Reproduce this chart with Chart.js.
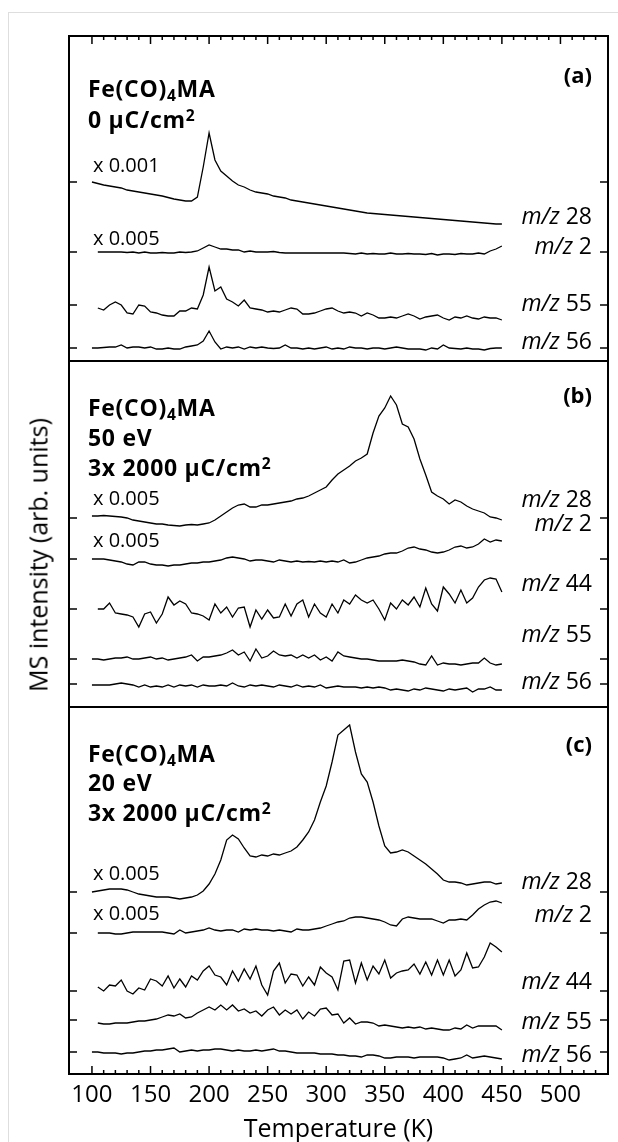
<!DOCTYPE html>
<html>
<head>
<meta charset="utf-8">
<script src="https://cdn.jsdelivr.net/npm/chart.js@4.4.1/dist/chart.umd.min.js"></script>
<style>
  body { margin: 0; background: #fff; font-family: 'Open Sans', sans-serif; }
  #wrap { position: relative; width: 618px; height: 1142px; overflow: hidden; }
  #edge { position: absolute; left: 8px; top: 12px; width: 660px; height: 1200px; border: 1.5px solid #dedede; }
  canvas { position: absolute; left: 0; top: 0; }
  .t { position: absolute; line-height: 1; transform: translateY(-50%); white-space: nowrap; color: #000; }
  .hd { font-weight: 700; font-size: 23px; left: 88px; letter-spacing: 0.7px; }
  .fx { font-size: 20px; left: 93px; }
  .mz { font-size: 23px; right: 26px; }
  .pl { font-weight: 700; font-size: 22px; right: 26px; }
  .sb { font-size: 0.68em; position: relative; top: 0.28em; }
  .sp { font-size: 0.68em; position: relative; top: -0.45em; }
  #ylab { position: absolute; left: 38px; top: 555px; font-size: 25px; line-height: 1; white-space: nowrap;
          transform: translate(-50%, -50%) rotate(-90deg); }
</style>
</head>
<body>
<div id="wrap">
  <div id="edge"></div>
  <canvas id="tpd" width="618" height="1142"></canvas>

  <!-- panel (a) -->
  <div class="t hd" style="top:88px">Fe(CO)<span class="sb">4</span>MA</div>
  <div class="t hd" style="top:119px">0 μC/cm<span class="sp">2</span></div>
  <div class="t pl" style="top:74px">(a)</div>
  <div class="t fx" style="top:165px">x 0.001</div>
  <div class="t fx" style="top:238px">x 0.005</div>
  <div class="t mz" style="top:215px"><i>m/z</i> 28</div>
  <div class="t mz" style="top:245px"><i>m/z</i> 2</div>
  <div class="t mz" style="top:302px"><i>m/z</i> 55</div>
  <div class="t mz" style="top:340px"><i>m/z</i> 56</div>

  <!-- panel (b) -->
  <div class="t hd" style="top:407px">Fe(CO)<span class="sb">4</span>MA</div>
  <div class="t hd" style="top:437px">50 eV</div>
  <div class="t hd" style="top:467px">3x 2000 μC/cm<span class="sp">2</span></div>
  <div class="t pl" style="top:394px">(b)</div>
  <div class="t fx" style="top:498px">x 0.005</div>
  <div class="t fx" style="top:540px">x 0.005</div>
  <div class="t mz" style="top:498px"><i>m/z</i> 28</div>
  <div class="t mz" style="top:522px"><i>m/z</i> 2</div>
  <div class="t mz" style="top:582px"><i>m/z</i> 44</div>
  <div class="t mz" style="top:633px"><i>m/z</i> 55</div>
  <div class="t mz" style="top:680px"><i>m/z</i> 56</div>

  <!-- panel (c) -->
  <div class="t hd" style="top:753px">Fe(CO)<span class="sb">4</span>MA</div>
  <div class="t hd" style="top:782px">20 eV</div>
  <div class="t hd" style="top:812px">3x 2000 μC/cm<span class="sp">2</span></div>
  <div class="t pl" style="top:743px">(c)</div>
  <div class="t fx" style="top:873px">x 0.005</div>
  <div class="t fx" style="top:913px">x 0.005</div>
  <div class="t mz" style="top:880px"><i>m/z</i> 28</div>
  <div class="t mz" style="top:913px"><i>m/z</i> 2</div>
  <div class="t mz" style="top:980px"><i>m/z</i> 44</div>
  <div class="t mz" style="top:1020px"><i>m/z</i> 55</div>
  <div class="t mz" style="top:1053px"><i>m/z</i> 56</div>

  <div id="ylab">MS intensity (arb. units)</div>
</div>

<script>
// temperature grid (K)
const tempK = [100,105,110,115,120,125,130,135,140,145,
               150,155,160,165,170,175,180,185,190,195,
               200,205,210,215,220,225,230,235,240,245,
               250,255,260,265,270,275,280,285,290,295,
               300,305,310,315,320,325,330,335,340,345,
               350,355,360,365,370,375,380,385,390,395,
               400,405,410,415,420,425,430,435,440,445,
               450];

// baselines of the traces (arb. units) = y tick positions of each panel
const baseA = [179, 109, 56, 13];          // m/z 28, 2, 55, 56
const baseB = [189, 148, 98, 48, 23];      // m/z 28, 2, 44, 55, 56
const baseC = [182, 141, 83, 54, 22];      // m/z 28, 2, 44, 55, 56

// (a) 0 uC/cm2
const a28 = [0,-1.5,-3,-4,-5,-6,-8,-9,-10,-11,
             -12,-13,-14,-15.5,-17,-18,-19,-19,-15,15,
             49,22,11,6,1,-3,-5,-8,-10,-11,
             -12,-14,-15,-16,-18,-19,-20,-21,-22,-23,
             -24,-25,-26,-27,-28,-29,-30,-31,-31.5,-32,
             -32.5,-33,-33.5,-34,-34.5,-35,-35.5,-36,-36.5,-37,
             -37.5,-38,-38.5,-39,-39.5,-40,-40.5,-41,-41.5,-42,
             -42];
const a2 = [null,0,0,0,0,0,-0.5,0,-1,0,
            -1,-1,-0.5,-1,-1,0,-0.5,0,1,4,
            7,5,3,3,2,2,0,1,0,0,
            0,0.5,-0.5,-1,-1,-1,-1,-1,-1,-1,
            -1,-1,-1,-1,-1.5,-2,-1,-2,-1.5,-2,
            -2,-1,-2,-2,-1.5,-2,-2,-2.5,-1.5,-3,
            -2,-2,-2.5,-1.5,-2,-2,-1,-2,1,3,
            6];
const a55 = [null,-3,-5,0,3,0,-8,-9,0,-1,
             -7,-8,-10,-11,-11,-6,-6,-3,-4,10,
             38,14,18,6,3,-1,5,-3,-4,-5,
             -7,-6,-7,-5,-3,-4,-9,-9,-8,-6,
             -4,-3,-6,-8,-7,-8,-11,-8,-10,-13,
             -13,-12,-13,-11,-9,-11,-14,-12,-11,-10,
             -13,-15,-12,-13,-11,-13,-14,-12,-13,-13,
             -15];
const a56 = [0,0,0.5,1,1,3,0,1,1,0,
             1,-1,-1,0,-1,-1,1,2,3,7,
             17,6,-1,1,0,1,-1,1,0,1,
             0,-0.5,0,3,0,0,-1,0,-1,0,
             1,-1,0,-1,1,0,0,-1,0,0,
             -1,0,1,0,-1,-1,-1,-2,0,-1,
             3,0,-0.5,-1,0,-1,-1,-2,-0.5,0,
             0];

// (b) 50 eV, 3x 2000 uC/cm2
const b28 = [2,2,2.5,2,1.5,1,0,-2,-3,-4,
             -5,-6,-6,-7,-7.5,-8,-7,-6.5,-7,-6,
             -5,-2,2,6,10,13,14,11,11,13,
             13,14,15,16,17,19,20,22,25,28,
             31,38,44,48,52,57,60,64,85,102,
             110,122,113,94,91,79,59,43,26,22,
             19,14,18,16,12,9,7,5,1,0,
             -2];
const b2 = [0,0,0,-1,-2,-3,-5,-6,-3,-3,
            -5,-6,-6,-7,-6,-6,-5,-4,-4,-3,
            -3,-2,-1,1,2,1,0,-2,-1,-1,
            -2,-3,-1,-2,-3,-2,-3,-2.5,-3,-2,
            -3,-2,-3,-1,-4,-3,-1,1,2,3,
            5,6,6,8,11,12,10,9,7,6,
            7,9,12,13,11,12,15,20,17,19,
            18];
const b44 = [null,0,0,6,-4,-5,-6,-8,-18,-5,
             -3,-14,-5,12,4,8,5,-4,-5,-7,
             -11,5,-4,2,-8,1,2,-18,-1,-10,
             -1,-9,-8,5,-7,5,9,-8,5,-4,
             -8,5,-4,9,5,14,9,6,9,0,
             -11,6,0,9,4,12,2,21,5,-2,
             22,15,6,19,6,11,22,29,31,30,
             17];
const b55 = [0,0,-1,0,1,1,2,0,0,1,
             2,0,1,-1,0,1,2,4,-2,2,
             2,3,4,6,9,4,7,-2,10,1,
             3,8,4,3,4,1,4,1,4,-1,
             2,-2,7,3,2,1,0,0,-1,-2,
             -2,-2,-2,-1,-2,-3,-5,-6,3,-6,
             -4,-5,-5,-6,-5,-4,-4,1,-4,-6,
             -5];
const b56 = [-1,-1,-1,-1,0,1,0,-1,-3,-1,
             -3,-2,-3,-1,-3,-1,-2,-1,-3,-1,
             -2,-2,-1,-2,1,-2,-3,-1,-2,-1,
             -2,-3,-1,-2,-3,-1,-3,-2,-3,-1,
             -4,-3,-2,-3,-3,-3,-4,-3,-4,-3,
             -4,-6,-5,-6,-7,-5,-6,-4,-5,-6,
             -7,-5,-6,-5,-4,-8,-5,-5,-3,-6,
             -6];

// (c) 20 eV, 3x 2000 uC/cm2
const c28 = [0,1,2,3,3,3,2,0,-2,-3,
             -4,-5,-5,-5,-6,-7,-6,-5,-3,1,
             8,18,32,52,57,53,44,36,35,37,
             36,38,37,39,41,45,52,60,72,90,
             106,130,157,162,167,140,118,110,90,66,
             46,39,40,42,40,36,32,28,23,18,
             12,10,10,9,7,8,9,10,10,8,
             9];
const c2 = [null,0,0,0,-1,-1,0,1,1,1,
            1,1,1,0,-1,3,0,1,2,3,
            5,3,2,3,3,1,4,3,4,3,
            3,2,3,2,1,4,3,3,4,5,
            7,9,11,12,15,16,16,15,14,13,
            11,8,7,14,16,15,14,14,14,12,
            10,13,13,14,13,18,24,28,31,32,
            30];
const c44 = [null,4,0,6,5,11,0,-3,3,1,
             12,10,5,15,3,12,4,15,11,20,
             25,16,14,6,20,10,22,12,25,6,
             -4,20,28,8,17,16,5,14,6,24,
             18,14,1,30,31,8,28,11,25,17,
             31,13,18,20,21,27,17,29,16,31,
             16,31,15,21,38,23,24,34,48,44,
             39];
const c55 = [null,-3,-4,-4,-3,-3,-3,-2,-1,-1,
             0,1,3,5,4,6,2,3,7,10,
             13,10,15,10,15,9,11,7,9,4,
             10,13,5,10,6,10,1,8,4,11,
             12,5,6,-3,2,-4,-2,-2,-3,-6,
             -5,-6,-7,-8,-7,-8,-7,-9,-8,-9,
             -10,-10,-8,-9,-5,-8,-6,-6,-6,-6,
             -10];
const c56 = [0,0,-1,-1,-1,-2,-1,-1,0,1,
             1,2,2,3,4,0,1,2,1,2,
             2,3,3,2,1,2,1,1,2,1,
             2,3,1,1,0,-1,-1,-1,-1,-2,
             -2,-2,-3,-3,-4,-4,-5,-3,-3,-4,
             -6,-6,-5,-5,-5,-6,-5,-5,-5,-5,
             -6,-8,-7,-6,-3,-6,-5,-4,-5,-6,
             -7];

const panels = [
  { axis: 'ya', base: baseA, traces: [a28, a2, a55, a56] },
  { axis: 'yb', base: baseB, traces: [b28, b2, b44, b55, b56] },
  { axis: 'yc', base: baseC, traces: [c28, c2, c44, c55, c56] },
];

const datasets = [];
panels.forEach(p => {
  p.traces.forEach((tr, i) => {
    datasets.push({
      yAxisID: p.axis,
      data: tempK.map((t, k) => ({ x: t, y: tr[k] === null ? null : p.base[i] + tr[k] })),
      borderColor: '#000',
      borderWidth: 1.3,
      pointRadius: 0,
      tension: 0,
      fill: false,
      spanGaps: false,
    });
  });
});

function panelAxis(base, top) {
  return {
    type: 'linear', position: 'right', stack: 'panels', stackWeight: top,
    min: 0, max: top,
    afterBuildTicks: s => { s.ticks = base.map(v => ({ value: v })); },
    afterFit: s => { s.width = 0; },
    ticks: { display: false },
    grid: { display: false, drawTicks: false },
    border: { display: false },
  };
}

// frame, panel borders and inward tick marks
const frameTicks = {
  id: 'frameTicks',
  afterDraw(chart) {
    const { ctx, chartArea: ca, scales } = chart;
    const seg = (x1, y1, x2, y2) => { ctx.beginPath(); ctx.moveTo(x1, y1); ctx.lineTo(x2, y2); ctx.stroke(); };
    ctx.save();
    ctx.strokeStyle = '#000';
    ['ya', 'yb', 'yc'].forEach(id => {
      const s = scales[id];
      ctx.lineWidth = 2;
      ctx.strokeRect(ca.left, s.top, ca.right - ca.left, s.bottom - s.top);
      ctx.lineWidth = 1.5;
      s.ticks.forEach(t => {
        const y = s.getPixelForValue(t.value);
        seg(ca.left, y, ca.left + 8, y);
        seg(ca.right - 8, y, ca.right, y);
      });
    });
    const x = scales.x;
    ctx.lineWidth = 1.5;
    x.ticks.forEach(t => {
      if (t.value % 10 !== 0) return;
      const px = x.getPixelForValue(t.value);
      const len = t.value % 50 === 0 ? 8 : 4;
      seg(px, ca.bottom, px, ca.bottom - len);
      seg(px, ca.top, px, ca.top + len);
    });
    ctx.restore();
  }
};

new Chart(document.getElementById('tpd'), {
  type: 'line',
  data: { datasets },
  options: {
    responsive: false,
    animation: false,
    events: [],
    layout: { padding: { left: 69, right: 10, top: 36, bottom: 0 } },
    plugins: { legend: { display: false }, tooltip: { enabled: false } },
    scales: {
      x: {
        type: 'linear', position: 'bottom', min: 80.4, max: 540.6,
        afterFit: s => { s.height = 68; },
        ticks: {
          stepSize: 10, autoSkip: false, maxRotation: 0, padding: 6.6, color: '#000',
          font: { family: 'Open Sans', size: 24, lineHeight: 1.2 },
          callback: v => (v % 50 === 0 ? String(v) : ''),
        },
        grid: { display: false, drawTicks: false },
        border: { display: false },
        title: {
          display: true, text: 'Temperature (K)', color: '#000',
          font: { family: 'Open Sans', size: 25, lineHeight: 1.0 },
          padding: { top: 0, bottom: 0 },
        },
      },
      ya: panelAxis(baseA, 325),
      yb: panelAxis(baseB, 346),
      yc: panelAxis(baseC, 367),
    },
  },
  plugins: [frameTicks],
});
</script>
</body>
</html>
